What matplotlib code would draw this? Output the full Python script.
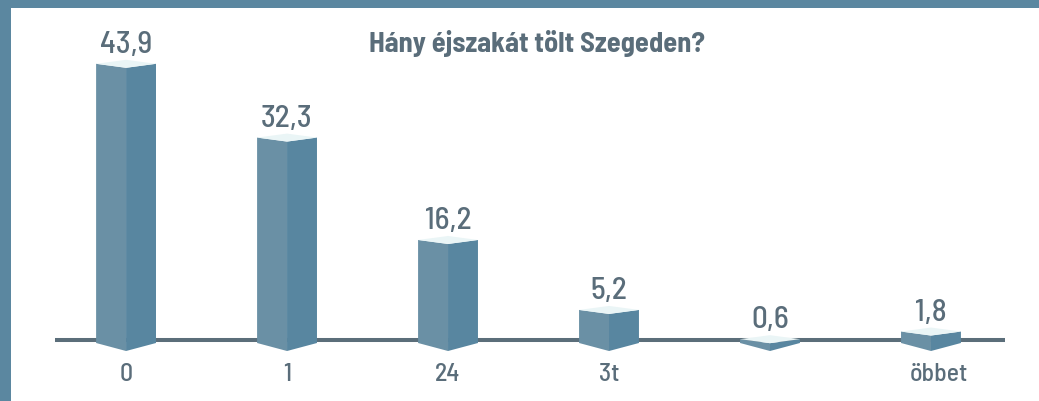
import matplotlib.pyplot as plt
from matplotlib.patches import Polygon, Rectangle

# data
categories = ["0", "1", "24", "3t", "", "öbbet"]
values = [43.9, 32.3, 16.2, 5.2, 0.6, 1.8]
value_labels = ["43,9", "32,3", "16,2", "5,2", "0,6", "1,8"]
title = "Hány éjszakát tölt Szegeden?"

frame_col = "#5b87a0"
text_col = "#5a6d7a"
left_col = "#6a90a5"
right_col = "#5886a0"
top_col = "#eaf5f6"
line_col = "#5b6e7a"

plt.rcParams['font.family'] = ['Barlow Semi Condensed', 'DejaVu Sans']

fig = plt.figure(figsize=(10.39, 4.02), dpi=100)
ax = fig.add_axes([0, 0, 1, 1])
ax.set_xlim(-0.783, 5.671)
ax.set_ylim(-9.12, 54.09)
ax.axis('off')

px = 1 / 6.36        # one pixel in value units
hw = 0.186           # half width of a bar in x units

# baseline (sits a little above the bar bottoms)
ax.plot([-0.441, 5.46], [3 * px, 3 * px], color=line_col, lw=2.9,
        solid_capstyle='butt', zorder=1)

for i, v in enumerate(values):
    # left and right faces
    ax.add_patch(Polygon([(i - hw, 0), (i, -8 * px), (i, v - 4 * px), (i - hw, v)],
                         closed=True, fc=left_col, ec='none', zorder=2))
    ax.add_patch(Polygon([(i, -8 * px), (i + hw, 0), (i + hw, v), (i, v - 4 * px)],
                         closed=True, fc=right_col, ec='none', zorder=2))
    # top face
    ax.add_patch(Polygon([(i - hw, v), (i, v + 4 * px), (i + hw, v), (i, v - 4 * px)],
                         closed=True, fc=top_col, ec='none', zorder=3))
    ax.annotate(value_labels[i], (i, v), xytext=(0, 8.5), textcoords='offset points',
                ha='center', va='baseline', fontsize=22.5, fontweight='medium',
                color=text_col)
    ax.annotate(categories[i], (i, 0), xytext=(6 if i == 5 else 0, -26.6),
                textcoords='offset points', ha='center', va='baseline',
                fontsize=18.5, fontweight='medium', color=text_col)

ax.text(2.553, 45.9, title, ha='center', va='baseline', fontsize=20.5,
        fontweight='bold', color=text_col)

# frame bands
fig.patches.append(Rectangle((0, 1 - 8.5 / 402), 1, 8.5 / 402, transform=fig.transFigure,
                             fc=frame_col, ec='none', zorder=5))
fig.patches.append(Rectangle((0, 0), 10.5 / 1039, 1, transform=fig.transFigure,
                             fc=frame_col, ec='none', zorder=5))

fig.savefig("out.png", dpi=100)
